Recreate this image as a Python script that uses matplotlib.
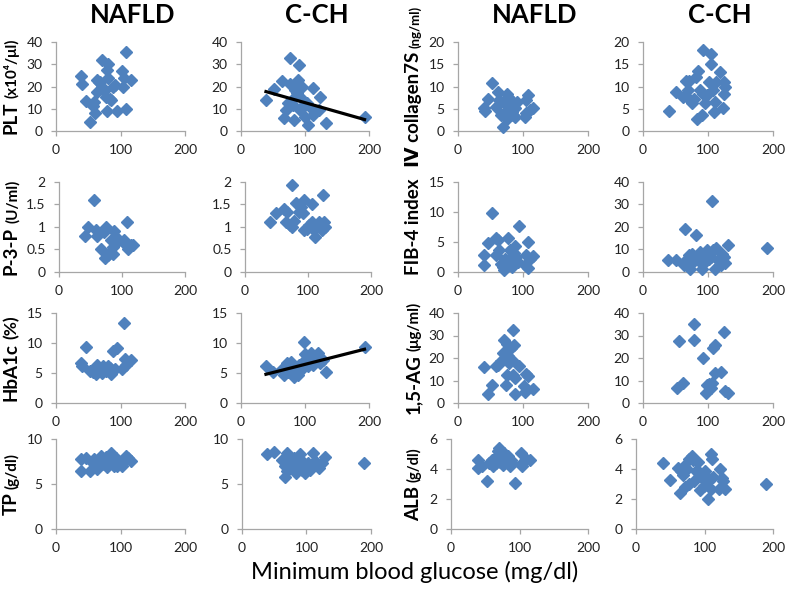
"""4x4 grid of scatter plots: markers vs minimum blood glucose, NAFLD vs C-CH."""

import matplotlib

matplotlib.use("Agg")
import matplotlib.pyplot as plt
from matplotlib.ticker import FuncFormatter, MultipleLocator
import numpy as np

W, H = 787, 589
FAM = ["Lato", "DejaVu Sans", "Noto Sans CJK JP"]
BLUE = "#4F81BD"
AXC = "#A6A6A6"
plt.rcParams.update({"font.family": FAM, "font.size": 9.5})

# ---- data ----
plt_nafld_x = [39, 40, 46, 53, 59, 58, 61, 64, 66, 64, 71, 68, 71, 79, 80, 79, 81, 78, 83, 86,
               88, 91, 94, 102, 104, 108, 108, 105, 116, 75]
plt_nafld_y = [24.6, 21.3, 13.4, 4.2, 13.1, 11.2, 7.9, 22.8, 22, 17.6, 32, 22, 20, 9.1, 30.3,
               27.3, 24, 15.4, 14.6, 13.9, 19.9, 20.6, 9, 27, 19.6, 35.5, 9.7, 23.6, 22.8, 18]
plt_cch_x = [39, 51, 64, 67, 71, 73, 76, 77, 79, 83, 84, 87, 89, 91, 92, 95, 96, 98, 100, 105,
             108, 112, 113, 122, 123, 133, 193, 82, 103]
plt_cch_y = [13.9, 18.7, 22.4, 5.7, 9.4, 12.7, 21, 33, 14, 4.9, 18.4, 16.9, 22.8, 29.6, 9.4,
             14.6, 19.6, 11.6, 6.4, 2.7, 10.9, 19.4, 7.2, 9.4, 15.4, 3.4, 6.1, 11.6, 12.5]
plt_cch_fit = (-0.0816, 20.9)

col_nafld_x = [40, 42, 46, 53, 58, 62, 63, 66, 69, 70, 72, 75, 76, 77, 79, 81, 83, 84, 85, 87,
               88, 90, 103, 105, 107, 110, 115, 105]
col_nafld_y = [5.1, 4.5, 7.3, 10.8, 5.4, 8.8, 6.9, 3.6, 1.0, 6.6, 4.3, 2.8, 8.4, 7.7, 5.4, 6.9,
               4.3, 3.6, 6.2, 5.1, 3.2, 6.6, 3.2, 6.9, 8.1, 4.7, 5.1, 4.0]
col_cch_x = [40, 50, 62, 66, 69, 71, 72, 75, 78, 81, 84, 83, 87, 90, 93, 93, 95, 98, 101, 104,
             105, 107, 109, 111, 113, 119, 123, 124, 125, 126]
col_cch_y = [4.5, 8.7, 7.7, 11.3, 9.2, 11.2, 6.9, 6.2, 7.3, 12.2, 13.5, 2.8, 9.2, 3.6, 18.3,
             8.4, 6.2, 8.1, 11, 17.4, 15, 9.2, 4.3, 6.6, 11.0, 13.3, 5.1, 11, 8.4, 9.9]

p3p_nafld_x = [41, 46, 55, 58, 61, 66, 71, 75, 73, 78, 81, 83, 85, 87, 89, 91, 86, 103, 105,
               108, 109, 114, 118]
p3p_nafld_y = [0.8, 1.0, 1.61, 0.93, 0.81, 0.52, 0.89, 1.0, 0.3, 0.37, 0.44, 0.72, 0.56, 0.91,
               0.63, 0.78, 0.41, 0.7, 0.63, 1.11, 0.5, 0.59, 0.61]
p3p_cch_x = [40, 49, 62, 65, 66, 72, 74, 75, 78, 81, 85, 89, 92, 93, 94, 98, 102, 106, 106,
             109, 111, 114, 117, 119, 122, 124, 127, 126]
p3p_cch_y = [1.11, 1.31, 1.4, 1.11, 1.33, 1.04, 0.99, 1.93, 1.13, 1.53, 1.33, 1.44, 1.31, 1.61,
             0.93, 0.96, 1.04, 1.5, 1.11, 0.93, 0.78, 1.04, 1.11, 1.0, 0.94, 1.71, 1.01, 1.11]

fib_nafld_x = [40, 40, 46, 53, 58, 59, 62, 63, 66, 69, 71, 72, 75, 77, 79, 80, 83, 84, 86, 88,
               89, 92, 94, 103, 105, 107, 108, 110, 115]
fib_nafld_y = [1.1, 2.8, 4.8, 9.8, 5.6, 2.8, 5.3, 3.6, 1.4, 0.9, 0.4, 2.2, 1.4, 5.6, 2.2, 3.6,
               0.8, 1.9, 3.1, 4.3, 2.5, 1.7, 7.6, 1.1, 2.8, 0.6, 5.0, 2.2, 2.6]
fib_cch_x = [39, 50, 64, 63, 67, 70, 72, 75, 77, 81, 80, 85, 88, 90, 93, 95, 98, 101, 102, 104,
             106, 108, 111, 113, 116, 120, 121, 124, 126, 130, 190]
fib_cch_y = [5.2, 5.2, 19.3, 3.0, 5.9, 7.4, 1.5, 8.1, 4.4, 16.3, 6.7, 5.2, 8.9, 1.5, 3.7, 6.7,
             9.6, 5.9, 8.1, 6.7, 31.6, 9.6, 1.5, 10.8, 5.2, 3.0, 8.1, 6.7, 4.0, 11.9, 10.8]

hba_nafld_x = [39, 41, 47, 52, 58, 62, 64, 67, 71, 73, 78, 80, 83, 86, 88, 92, 95, 103, 105,
               107, 109, 112, 116]
hba_nafld_y = [6.7, 6.1, 9.3, 5.3, 5.2, 4.8, 6.4, 5.7, 5.0, 6.1, 5.4, 6.2, 5.8, 4.8, 8.7, 5.6,
               9.1, 5.6, 13.3, 7.4, 6.4, 6.9, 7.1]
hba_cch_x = [39, 50, 64, 67, 72, 73, 77, 78, 81, 83, 86, 89, 91, 95, 96, 98, 100, 103, 105,
             108, 110, 112, 116, 121, 123, 128, 133, 193]
hba_cch_y = [6.1, 5.2, 5.6, 4.6, 6.7, 5.2, 5.6, 6.9, 5.2, 4.4, 5.8, 4.7, 6.3, 5.6, 6.7, 10.2,
             8.2, 7.2, 6.1, 7.8, 8.4, 6.4, 7.2, 8.3, 6.7, 7.2, 5.2, 9.3]
hba_cch_fit = (0.0271, 3.73)

ag_nafld_x = [40, 46, 53, 58, 62, 66, 69, 71, 74, 75, 76, 77, 79, 81, 83, 84, 84, 86, 88, 88,
              94, 102, 103, 105, 107, 115]
ag_nafld_y = [15.9, 4.0, 7.9, 16.3, 17.0, 18.8, 22.2, 28.1, 8.1, 26.2, 12.6, 21.0, 17.8, 24.4,
              19.2, 32.6, 12.3, 25.6, 11.1, 4.0, 16.6, 7.4, 4.9, 12.9, 11.9, 6.4]
ag_cch_x = [53, 61, 56, 78, 79, 93, 97, 99, 102, 104, 106, 107, 111, 111, 120, 124, 126, 130]
ag_cch_y = [6.7, 8.9, 27.7, 28.1, 35.1, 20, 4.4, 8.1, 8.4, 6.7, 8.9, 24.4, 25.9, 13.3, 13.8,
            31.6, 5.5, 4.4]

tp_nafld_x = [39, 39, 47, 53, 59, 62, 64, 67, 69, 71, 73, 76, 78, 79, 81, 84, 86, 88, 90, 93,
              95, 103, 105, 109, 112, 116, 58, 98]
tp_nafld_y = [7.8, 6.5, 7.9, 6.4, 7.8, 7.0, 6.7, 7.4, 8.1, 7.2, 7.7, 7.3, 8.0, 6.9, 7.6, 7.3,
              8.4, 7.7, 7.0, 7.9, 7.0, 7.0, 7.4, 8.1, 7.9, 7.6, 7.3, 7.5]
tp_cch_x = [38, 49, 62, 66, 67, 69, 70, 72, 75, 77, 79, 81, 83, 85, 88, 90, 93, 95, 98, 101,
            103, 106, 110, 111, 113, 120, 124, 129, 189]
tp_cch_y = [8.3, 8.6, 7.7, 5.8, 7.0, 8.5, 6.4, 8.1, 7.3, 7.6, 6.8, 7.9, 6.2, 7.5, 7.0, 8.3,
            6.6, 7.4, 6.2, 6.9, 7.3, 6.6, 8.4, 7.2, 7.6, 6.8, 7.3, 8.0, 7.3]

alb_nafld_x = [39, 39, 45, 53, 56, 60, 62, 65, 66, 68, 70, 71, 73, 75, 76, 78, 79, 81, 83, 84,
               86, 88, 89, 94, 102, 104, 105, 109, 116]
alb_nafld_y = [4.6, 4.1, 4.2, 3.2, 4.4, 4.6, 4.2, 4.4, 4.8, 5.2, 5.4, 4.5, 5.0, 4.7, 4.3, 5.1,
               4.8, 4.5, 4.9, 4.6, 4.2, 4.6, 4.4, 3.1, 5.1, 4.2, 4.5, 4.7, 4.6]
alb_cch_x = [39, 49, 61, 64, 66, 69, 70, 72, 74, 77, 78, 82, 83, 84, 88, 90, 92, 93, 96, 99,
             101, 104, 105, 106, 109, 110, 111, 113, 121, 123, 126, 127, 130, 190]
alb_cch_y = [4.4, 3.3, 4.1, 2.4, 3.9, 3.6, 4.2, 2.8, 4.0, 3.0, 4.7, 4.9, 4.6, 3.2, 3.9, 4.5,
             3.8, 2.6, 3.4, 2.9, 3.9, 3.5, 2.0, 3.3, 2.7, 5.0, 4.7, 3.5, 2.7, 4.0, 3.4, 3.2,
             2.7, 3.0]

group_titles = ["NAFLD", "C-CH", "NAFLD", "C-CH"]
xlabel = "Minimum blood glucose (mg/dl)"
# (main text, unit text, unit size) for the left and right pairs of each row
ylabels_left = [("PLT", "(x10⁴/μl)", 11), ("P-3-P", "(U/ml)", 11),
                ("HbA1c", "(%)", 12.5), ("TP", "(g/dl)", 11)]
ylabels_right = [("Ⅳ collagen7S", "(ng/ml)", 9.5), ("FIB-4 index", "", 0),
                 ("1,5-AG", "(μg/ml)", 11), ("ALB", "(g/dl)", 10.5)]

# rows: (ymax, ystep) for left pair and right pair
yscale = [((40, 10), (20, 5)), ((2, 0.5), (15, 5)), ((15, 5), (40, 10)), ((10, 5), (6, 2))]
cch_right_row2 = (40, 10)

series = [
    [(plt_nafld_x, plt_nafld_y, None), (plt_cch_x, plt_cch_y, plt_cch_fit),
     (col_nafld_x, col_nafld_y, None), (col_cch_x, col_cch_y, None)],
    [(p3p_nafld_x, p3p_nafld_y, None), (p3p_cch_x, p3p_cch_y, None),
     (fib_nafld_x, fib_nafld_y, None), (fib_cch_x, fib_cch_y, None)],
    [(hba_nafld_x, hba_nafld_y, None), (hba_cch_x, hba_cch_y, hba_cch_fit),
     (ag_nafld_x, ag_nafld_y, None), (ag_cch_x, ag_cch_y, None)],
    [(tp_nafld_x, tp_nafld_y, None), (tp_cch_x, tp_cch_y, None),
     (alb_nafld_x, alb_nafld_y, None), (alb_cch_x, alb_cch_y, None)],
]

# ---- layout in pixels (top, bottom) per row and (left, right) per panel ----
row_tb = [(42, 131), (182, 272), (313, 403), (439, 529)]
col_lr = [
    [(56, 185), (241, 369), (458, 588), (643, 773)],
    [(59, 185), (245, 371), (458, 588), (643, 773)],
    [(56, 185), (241, 369), (458, 588), (643, 773)],
    [(56, 185), (242, 371), (451, 588), (636, 773)],
]


def fmt(v, _):
    return f"{v:g}"


def stacked_ylabel(fig, renderer, x_px, yc_px, main, unit, usize):
    parts = [(main, 13.5)] + ([(unit, usize)] if unit else [])
    texts = [fig.text(0, 0, s, rotation=90, rotation_mode="anchor", ha="left",
                      va="baseline", fontsize=sz, fontweight="bold", family=FAM)
             for s, sz in parts]
    lens = [t.get_window_extent(renderer).height for t in texts]
    gap = 4
    y = yc_px + (sum(lens) + gap * (len(lens) - 1)) / 2
    for t, L in zip(texts, lens):
        t.set_position((x_px / W, 1 - y / H))
        y -= L + gap


fig = plt.figure(figsize=(W / 100, H / 100), dpi=100)
for r in range(4):
    top, bot = row_tb[r]
    for c in range(4):
        left, right = col_lr[r][c]
        ax = fig.add_axes([left / W, 1 - bot / H, (right - left) / W, (bot - top) / H])
        x, y, fit = series[r][c]
        ymax, ystep = yscale[r][c // 2]
        if r == 1 and c == 3:
            ymax, ystep = cch_right_row2
        ax.plot(x, y, ls="", marker="D", ms=6, color=BLUE, zorder=3, clip_on=False)
        if fit is not None:
            xs = np.array([min(x), max(x)])
            ax.plot(xs, fit[0] * xs + fit[1], color="k", lw=2.3, zorder=4)
        ax.set_xlim(0, 200)
        ax.set_ylim(0, ymax)
        ax.xaxis.set_major_locator(MultipleLocator(100))
        ax.yaxis.set_major_locator(MultipleLocator(ystep))
        ax.xaxis.set_major_formatter(FuncFormatter(fmt))
        ax.yaxis.set_major_formatter(FuncFormatter(fmt))
        for s in ("top", "right"):
            ax.spines[s].set_visible(False)
        for s in ("left", "bottom"):
            ax.spines[s].set_color(AXC)
            ax.spines[s].set_linewidth(0.9)
        ax.tick_params(axis="both", colors=AXC, labelcolor="#222222", labelsize=10,
                       length=3.6, width=0.9, pad=6)
        ax.patch.set_alpha(0)

for c, t in enumerate(group_titles):
    left, right = col_lr[0][c]
    fig.text(((left + right) / 2 + 12) / W, 1 - 15 / H, t, ha="center", va="center",
             fontsize=18.5, fontweight="bold")

fig.text(415 / W, 1 - 572 / H, xlabel, ha="center", va="center", fontsize=17)

renderer = fig.canvas.get_renderer()
for r in range(4):
    top, bot = row_tb[r]
    yc = (top + bot) / 2
    stacked_ylabel(fig, renderer, 17, yc, *ylabels_left[r])
    stacked_ylabel(fig, renderer, 419, yc, *ylabels_right[r])

fig.savefig("out.png", dpi=100)
